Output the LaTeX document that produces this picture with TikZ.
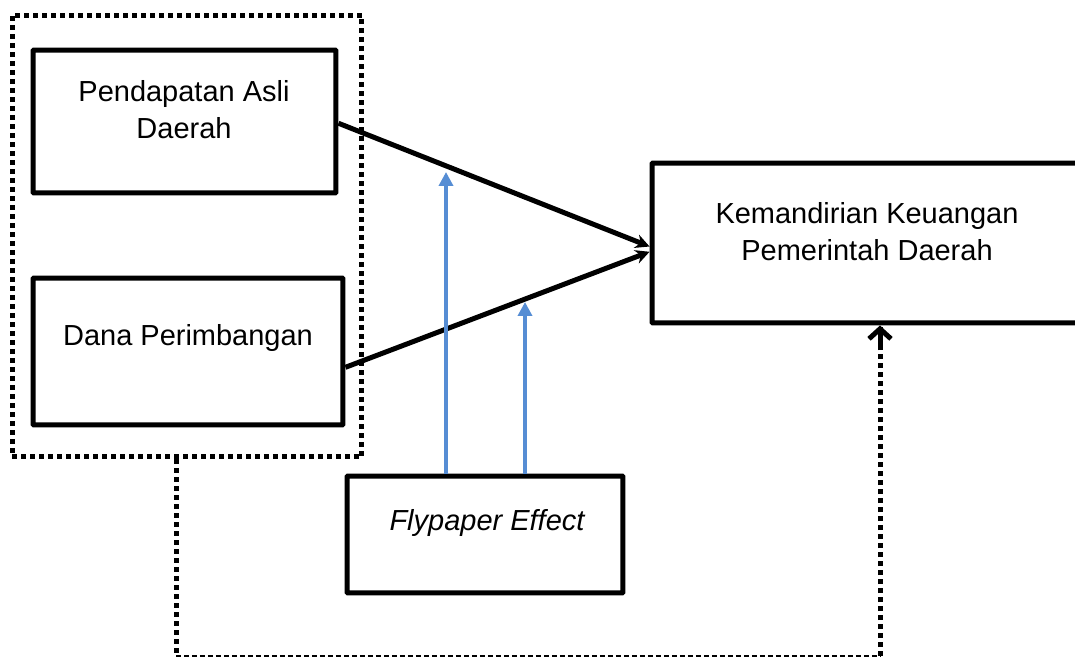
\documentclass[tikz,border=0pt]{standalone}
\usepackage{fontspec}
\setmainfont{Liberation Sans}
\usetikzlibrary{arrows.meta,positioning}
\definecolor{arrowblue}{RGB}{86,141,212}
\tikzset{every node/.style={font=\fontsize{16.5}{21}\selectfont, align=center, inner sep=0pt},
  box/.style={draw, line width=0.1cm, rounded corners=0.5pt},
  link/.style={line width=0.1cm, -{Stealth[length=0.28cm, width=0.28cm]}},
  moderate/.style={arrowblue, line width=0.09cm, -{Triangle[length=0.28cm, width=0.28cm]}},
  dotline/.style={line width=0.1cm, dash pattern=on 0.1cm off 0.08cm},
  dashline/.style={line width=0.05cm, dash pattern=on 0.1cm off 0.06cm}}

\begin{document}
\begin{tikzpicture}[x=0.02cm, y=-0.02cm]
  \useasboundingbox (0,0) rectangle (1075,658);
  \node[dotline, draw, minimum width=7cm, minimum height=8.84cm] (grp) at (187,236) {};
  \node[box, minimum width=6.06cm, minimum height=2.86cm] (pad) at (184.5,121.5) {};
  \node (padtxt) at (184,110) {Pendapatan Asli\\Daerah};
  \node[box, minimum width=6.2cm, minimum height=2.94cm] (dp) at (188,351.5) {};
  \node (dptxt) at (188,338) {Dana Perimbangan};
  \node[box, minimum width=8.6cm, minimum height=3.2cm] (kk) at (867,243) {};
  \node (kktxt) at (867,232) {Kemandirian Keuangan\\Pemerintah Daerah};
  \node[box, minimum width=5.52cm, minimum height=2.34cm] (fly) at (485,534.5) {};
  \node (flytxt) at (487,523) {\itshape Flypaper Effect};

  \draw[link] ([yshift=-1pt]pad.east) -- ([yshift=-2pt]kk.west);
  \draw[link] ([yshift=-9pt]dp.east) -- ([yshift=-5pt]kk.west);

  \draw[moderate] (fly.north -| 446,0) -- (446,172);
  \draw[moderate] (fly.north -| 525,0) -- (525,302);

  \coordinate (fbl) at (176,656);
  \coordinate (fbr) at (880,656);
  \draw[dotline] (grp.south -| fbl) -- (fbl);
  \draw[dashline] (fbl) -- (fbr);
  \draw[dotline] (fbr) -- (kk.south -| fbr);
  \draw[line width=0.1cm, -{Straight Barb[length=0.2cm, width=0.44cm]}] ([yshift=-14pt]kk.south -| fbr) -- (kk.south -| fbr);
\end{tikzpicture}
\end{document}
